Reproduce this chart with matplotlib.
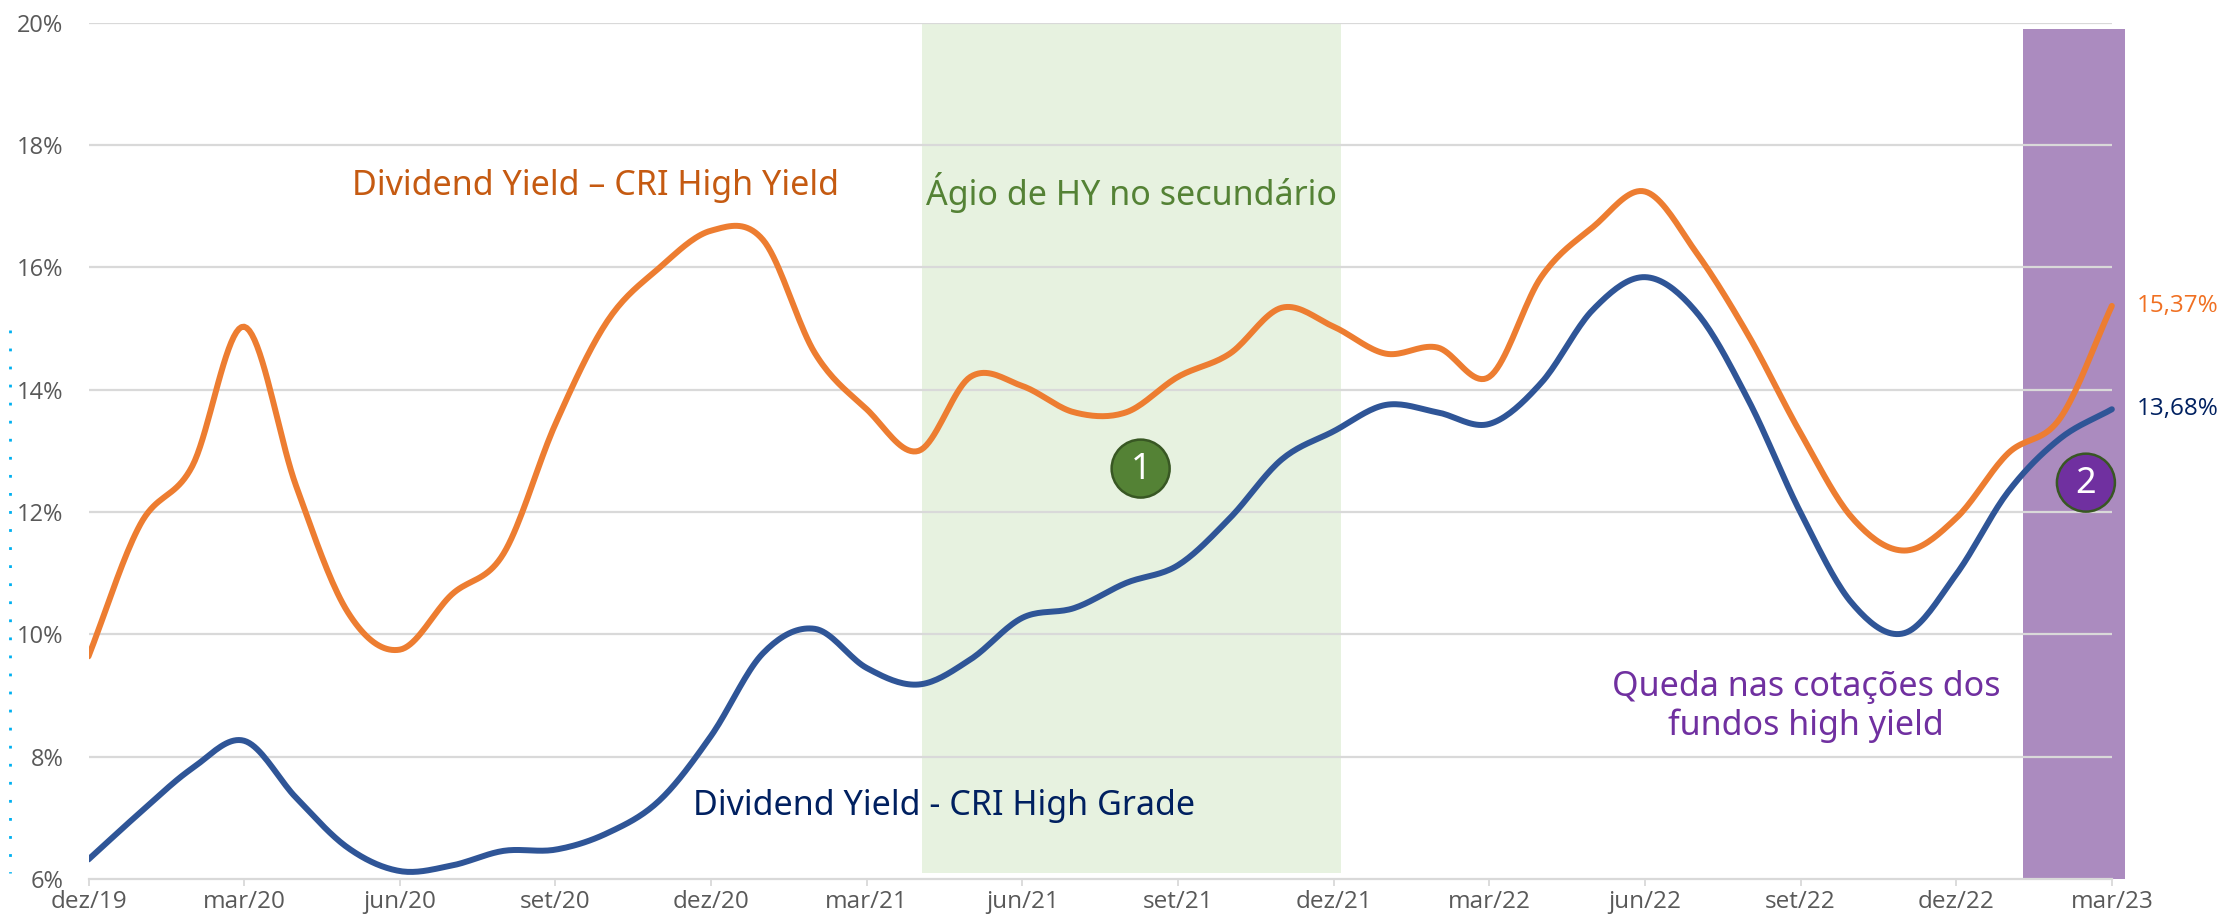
import numpy as np
import matplotlib
matplotlib.use("Agg")
import matplotlib.pyplot as plt
from matplotlib.patches import Ellipse
from matplotlib.lines import Line2D

# ---------------- data ----------------
months = ['dez/19', 'jan/20', 'fev/20', 'mar/20', 'abr/20', 'mai/20', 'jun/20', 'jul/20',
          'ago/20', 'set/20', 'out/20', 'nov/20', 'dez/20', 'jan/21', 'fev/21', 'mar/21',
          'abr/21', 'mai/21', 'jun/21', 'jul/21', 'ago/21', 'set/21', 'out/21', 'nov/21',
          'dez/21', 'jan/22', 'fev/22', 'mar/22', 'abr/22', 'mai/22', 'jun/22', 'jul/22',
          'ago/22', 'set/22', 'out/22', 'nov/22', 'dez/22', 'jan/23', 'fev/23', 'mar/23']

high_yield = [9.64, 11.80, 12.75, 15.03, 12.43, 10.36, 9.75, 10.65, 11.32, 13.44,
              15.12, 15.99, 16.60, 16.45, 14.60, 13.68, 13.00, 14.21, 14.06, 13.63,
              13.63, 14.21, 14.59, 15.34, 15.03, 14.59, 14.69, 14.21, 15.84, 16.66,
              17.24, 16.23, 14.88, 13.29, 11.90, 11.37, 11.90, 12.96, 13.53, 15.37]

high_grade = [6.32, 7.09, 7.81, 8.26, 7.33, 6.51, 6.13, 6.22, 6.46, 6.48,
              6.75, 7.28, 8.34, 9.69, 10.09, 9.45, 9.18, 9.59, 10.27, 10.43,
              10.84, 11.13, 11.90, 12.86, 13.32, 13.75, 13.63, 13.44, 14.11, 15.31,
              15.84, 15.26, 13.82, 11.99, 10.50, 10.02, 10.98, 12.33, 13.20, 13.68]

yticks = [6, 8, 10, 12, 14, 16, 18, 20]
ytick_labels = ['6%', '8%', '10%', '12%', '14%', '16%', '18%', '20%']

label_hy = '15,37%'
label_hg = '13,68%'

green_span = (16.07, 24.14)
purple_span = (37.28, 39.25)

# ---------------- helpers ----------------
def smooth(y, n=20):
    """Catmull-Rom rendering of a monthly series (like Excel's smoothed line)."""
    y = np.asarray(y, float)
    x = np.arange(len(y), dtype=float)
    P = np.concatenate([[2 * y[0] - y[1]], y, [2 * y[-1] - y[-2]]])
    xs, ys = [], []
    t = np.linspace(0, 1, n, endpoint=False)
    for i in range(len(y) - 1):
        p0, p1, p2, p3 = P[i], P[i + 1], P[i + 2], P[i + 3]
        yy = 0.5 * ((2 * p1) + (-p0 + p2) * t + (2 * p0 - 5 * p1 + 4 * p2 - p3) * t ** 2
                    + (-p0 + 3 * p1 - 3 * p2 + p3) * t ** 3)
        xs.append(x[i] + t)
        ys.append(yy)
    xs.append([x[-1]])
    ys.append([y[-1]])
    return np.concatenate(xs), np.concatenate(ys)

FONT = ['Open Sans', 'DejaVu Sans']
AFONT = ['Noto Sans', 'Open Sans', 'DejaVu Sans']

# ---------------- figure ----------------
fig = plt.figure(figsize=(22.26, 9.24), dpi=100)
ax = fig.add_axes([88.5 / 2226, 1 - 879 / 924, (2132.6 - 88.5) / 2226, (879 - 22.7) / 924])
ax.set_xlim(0, 39.4)
ax.set_ylim(6, 20)

# bands
ax.fill_between(green_span, 6.1, 20, color='#E7F2E0', zorder=0, linewidth=0)
ax.fill_between(purple_span, 6.0, 19.9, color='#AB8BBF', zorder=0, linewidth=0)

# gridlines
for v in yticks[1:]:
    ax.plot([0, 39], [v, v], color='#D9D9D9', lw=1.6, zorder=0.5, solid_capstyle='butt')

# lines
xs, ys = smooth(high_grade)
ax.plot(xs, ys, color='#2F5597', lw=4.3, zorder=3, solid_capstyle='round')
xs, ys = smooth(high_yield)
ax.plot(xs, ys, color='#ED7D31', lw=4.3, zorder=3, solid_capstyle='round')

# axes styling
for s in ['left', 'right', 'top']:
    ax.spines[s].set_visible(False)
ax.spines['bottom'].set_color('#D9D9D9')
ax.spines['bottom'].set_linewidth(1.6)
ax.spines['bottom'].set_bounds(0, 39)
ax.spines['bottom'].set_zorder(0.5)

xt = list(range(0, 40, 3))
ax.set_xticks(xt)
ax.set_xticklabels([months[i] for i in xt], fontsize=17.5, color='#595959', family=FONT)
ax.tick_params(axis='x', length=5, width=1.3, color='#D9D9D9', pad=3)
ax.set_yticks(yticks)
ax.set_yticklabels(ytick_labels, fontsize=17, color='#595959', family=FONT)
ax.tick_params(axis='y', length=0, pad=18)

# annotations
TW = 'medium'
ax.text(9.77, 17.33, 'Dividend Yield – CRI High Yield', color='#C55A11', fontsize=24.5,
        ha='center', va='center', family=AFONT, weight=TW)
ax.text(20.1, 17.23, 'Ágio de HY no secundário', color='#548235', fontsize=24.5,
        ha='center', va='center', family=AFONT, weight=TW)
ax.text(16.5, 7.2, 'Dividend Yield - CRI High Grade', color='#002060', fontsize=24.5,
        ha='center', va='center', family=AFONT, weight=TW)
ax.text(33.1, 8.82, 'Queda nas cotações dos\nfundos high yield', color='#7030A0', fontsize=24.5,
        ha='center', va='center', family=AFONT, linespacing=1.15, weight=TW)

ax.text(39.48, high_yield[-1], label_hy, color='#F07022', fontsize=17.5, ha='left', va='center',
        family=FONT, clip_on=False)
ax.text(39.48, high_grade[-1], label_hg, color='#002060', fontsize=17.5, ha='left', va='center',
        family=FONT, clip_on=False)

# numbered circles
def badge(x, y, txt, fc):
    w = 58 / 51.88
    h = 58 / 61.2
    e = Ellipse((x, y), w, h, facecolor=fc, edgecolor='#385723', lw=1.8, zorder=5)
    ax.add_patch(e)
    ax.text(x, y - 0.02, txt, color='white', fontsize=26, ha='center', va='center',
            family=AFONT, zorder=6, weight='medium')

badge(20.28, 12.71, '1', '#548235')
badge(38.5, 12.48, '2', '#7030A0')

# dotted light-blue line at the far left
fig.add_artist(Line2D([10 / 2226, 10 / 2226], [1 - 330 / 924, 1 - 873 / 924],
                      color='#00B0F0', lw=2, linestyle=(0, (1, 5.5))))

fig.savefig('out.png', dpi=100)
